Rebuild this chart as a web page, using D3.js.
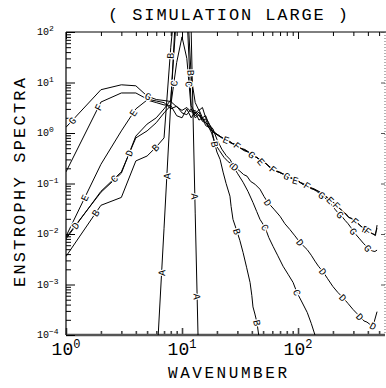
<!DOCTYPE html>
<html>
<head>
<meta charset="utf-8">
<script src="https://cdn.jsdelivr.net/npm/d3@7"></script>
<style>
  body { margin: 0; background: #fff; }
  text { font-family: "Liberation Mono", "DejaVu Sans Mono", monospace; fill: #000; }
</style>
</head>
<body>
<div id="chart"></div>
<script>
// spectra, [wavenumber, enstrophy] pairs
const curveA = [[6, 2e-5], [7, 0.013], [8, 3.9], [9, 600], [10, 3000], [11, 1500], [12, 100], [13, 0.025], [14, 1.5e-5]];

const curveB = [[1, 0.0036], [2, 0.037], [3, 0.053], [4, 0.28], [5, 0.35], [6, 0.53], [7, 0.8], [8, 50], [9, 800],
  [10, 150], [11, 600], [12, 13], [13, 4], [14, 2.8], [15, 3.2], [16, 2.0], [17, 1.6], [18, 1.2], [19.2, 0.6],
  [20, 0.42], [21.3, 0.30], [22.6, 0.168], [24, 0.1], [25.9, 0.056], [26.5, 0.035], [27.5, 0.0195], [29.8, 0.0112],
  [31.5, 0.0075], [33.6, 0.0043], [36, 0.0022], [38.6, 0.0011], [40, 6e-4], [40.9, 3.6e-4], [42.5, 2.6e-4],
  [44.3, 1.75e-4], [47, 6.5e-5]];

const curveC = [[1, 0.008], [2, 0.07], [3, 0.17], [4, 0.8], [5, 1.1], [6, 1.6], [7, 2.5], [8, 3.5], [9, 25],
  [10, 80], [11, 30], [12, 3.0], [13, 2.2], [14, 2.6], [15, 1.8], [16, 1.9], [17, 1.3], [18, 1.0], [19.2, 0.62],
  [21, 0.45], [23, 0.33], [25, 0.27], [27, 0.24], [30, 0.16], [33.6, 0.106], [37, 0.07], [40.9, 0.042],
  [44, 0.028], [47, 0.0195], [52, 0.0135], [56, 0.0085], [60.9, 0.0057], [67, 0.0037], [74.3, 0.0023],
  [82, 0.0016], [90.6, 0.0011], [98, 6.9e-4], [108, 4.5e-4], [120, 2.8e-4], [130, 1.7e-4], [140, 1.0e-4],
  [155, 5e-5]];

const curveD = [[1, 0.0085], [2, 0.067], [3, 0.16], [4, 0.87], [5, 1.5], [6, 2.0], [7, 3.0], [8, 4.5], [9, 250],
  [10, 600], [11, 250], [12, 3.5], [13, 2.4], [14, 2.9], [15, 2.0], [16, 2.2], [17, 1.5], [18.5, 1.2], [20, 0.75],
  [22, 0.48], [24, 0.36], [25.9, 0.30], [28, 0.22], [31.5, 0.176], [34, 0.15], [36.3, 0.14], [39, 0.11],
  [42.5, 0.097], [47, 0.077], [51, 0.055], [55, 0.042], [62, 0.031], [70, 0.0224], [77, 0.016], [85, 0.0123],
  [94, 0.0092], [104, 0.0068], [120, 0.0049], [130, 0.0038], [140, 0.0029], [150, 0.0023], [164, 0.0018],
  [180, 0.0013], [200, 9.1e-4], [220, 7e-4], [244, 5.5e-4], [270, 4.2e-4], [298, 3.2e-4], [320, 2.7e-4],
  [342, 2.3e-4], [370, 1.9e-4], [393, 1.8e-4], [420, 1.6e-4], [443, 1.5e-4], [480, 2.9e-4]];

const curveE = [[1, 0.009], [2, 0.24], [3, 1.1], [4, 3.0], [5, 4.5], [6, 4.0], [7, 3.6], [8, 3.5], [9, 2.2],
  [10, 2.0], [11, 3.0], [12, 2.0], [13, 2.6], [14, 1.8], [15, 2.0], [16, 1.4], [17, 1.3], [18.5, 1.05],
  [21, 0.88], [23, 0.76], [26, 0.68], [28, 0.58], [30, 0.56], [34, 0.45], [37, 0.42], [39, 0.37], [45, 0.32],
  [48, 0.27], [52, 0.26], [57, 0.21], [61, 0.195], [66, 0.17], [70, 0.168], [78, 0.145], [85, 0.135],
  [92, 0.118], [100, 0.112], [110, 0.096], [120, 0.09], [130, 0.079], [140, 0.076], [155, 0.068], [170, 0.057],
  [180, 0.053], [195, 0.044], [205, 0.041], [218, 0.034], [230, 0.032], [245, 0.027], [260, 0.025],
  [275, 0.021], [290, 0.0205], [305, 0.018], [323, 0.0172], [340, 0.0148], [360, 0.0135], [375, 0.0124],
  [390, 0.012], [405, 0.0112], [418, 0.011], [435, 0.0102], [450, 0.0099], [465, 0.0093], [480, 0.015]];

const curveF = [[1, 0.17], [2, 4.1], [3, 6.2], [4, 6.2], [5, 4.7], [6, 4.3], [7, 4.0], [8, 3.0], [9, 3.4],
  [10, 2.5], [11, 2.3], [12, 3.0], [13, 2.0], [14, 2.3], [15, 1.7], [16, 1.6], [17, 1.3], [18.5, 1.05],
  [20, 0.92], [22, 0.8], [24, 0.74], [26, 0.64], [29, 0.6], [32, 0.5], [35, 0.47], [39, 0.39], [42, 0.36],
  [46, 0.3], [50, 0.27], [55, 0.23], [61, 0.19], [65, 0.18], [72, 0.158], [80, 0.146], [87, 0.13], [95, 0.122],
  [105, 0.105], [115, 0.096], [125, 0.085], [138, 0.078], [150, 0.069], [165, 0.061], [180, 0.051],
  [192, 0.047], [210, 0.039], [225, 0.033], [240, 0.029], [255, 0.025], [270, 0.022], [285, 0.0205],
  [300, 0.019], [315, 0.0172], [330, 0.016], [350, 0.0142], [370, 0.0128], [385, 0.0122], [400, 0.0114],
  [420, 0.0107], [440, 0.0101], [460, 0.0095], [480, 0.013]];

const curveG = [[1, 1.3], [2, 7.2], [3, 9.0], [4, 8.6], [5, 5.4], [6, 4.6], [7, 4.4], [8, 4.2], [9, 3.3],
  [10, 2.8], [11, 3.2], [12, 2.6], [13, 2.8], [14, 2.2], [15, 2.0], [16, 1.6], [17, 1.4], [18.5, 1.1],
  [20, 0.95], [22, 0.82], [25, 0.7], [27, 0.62], [30, 0.57], [33, 0.48], [37, 0.43], [40, 0.37], [44, 0.33],
  [49, 0.28], [53, 0.25], [58, 0.2], [63, 0.185], [70, 0.163], [76, 0.15], [85, 0.13], [93, 0.12],
  [102, 0.108], [112, 0.095], [122, 0.087], [135, 0.077], [145, 0.07], [155, 0.062], [168, 0.054],
  [182, 0.045], [196, 0.037], [208, 0.031], [222, 0.026], [240, 0.022], [255, 0.0185], [270, 0.016],
  [285, 0.0135], [298, 0.0115], [315, 0.0098], [340, 0.008], [365, 0.0066], [385, 0.0058], [401, 0.0052],
  [420, 0.0048], [440, 0.0046], [460, 0.0045], [480, 0.0048]];

// wavenumbers where the curve letters sit
const labelsA = [6.67, 7.4, 12.9, 13.5];
const labelsB = [1.8, 5.9, 7.9, 11.95, 19.2, 29.8, 44.3];
const labelsC = [2.6, 8.5, 11.5, 27.5, 52, 98];
const labelsD = [1.2, 3.5, 28.6, 55, 104, 164, 244, 342, 443];
const labelsE = [1.45, 3.8, 24, 48, 95, 190, 380];
const labelsF = [1.9, 30, 61, 120, 215, 310, 400];
const labelsG = [1.13, 5.1, 40, 80, 160, 230, 300, 400];

const seriesNames = ["A", "B", "C", "D", "E", "F", "G"];
const xTickExp = [0, 1, 2];
const yTickExp = [-4, -3, -2, -1, 0, 1, 2];

const series = [curveA, curveB, curveC, curveD, curveE, curveF, curveG].map((data, i) => ({
  name: seriesNames[i],
  data: data,
  labels: [labelsA, labelsB, labelsC, labelsD, labelsE, labelsF, labelsG][i]
}));

const width = 386, height = 388;
const plotLeft = 66, plotRight = 385, plotTop = 32, plotBottom = 335;

const svg = d3.select("#chart").append("svg")
  .attr("width", width)
  .attr("height", height);

const x = d3.scaleLog().domain([1, 562]).range([plotLeft, plotRight]);
const y = d3.scaleLog().domain([1e-4, 1e2]).range([plotBottom, plotTop]);

// minor tick values, 2..9 in each decade
const xMinor = [];
xTickExp.forEach(e => { for (let m = 2; m <= 9; m++) { const v = m * Math.pow(10, e); if (v < 562) xMinor.push(v); } });
const yMinor = [];
yTickExp.slice(0, -1).forEach(e => { for (let m = 2; m <= 9; m++) yMinor.push(m * Math.pow(10, e)); });
const xMajor = xTickExp.map(e => Math.pow(10, e));
const yMajor = yTickExp.map(e => Math.pow(10, e));

function styleAxis(g, color, w) {
  g.select(".domain").remove();
  g.selectAll("line").attr("stroke", color).attr("stroke-width", w);
}

// bottom axis (ticks pointing in)
svg.append("g").attr("transform", `translate(0,${plotBottom})`)
  .call(d3.axisBottom(x).tickValues(xMinor).tickSize(-4).tickFormat(""))
  .call(g => styleAxis(g, "#444", 1.6));
svg.append("g").attr("transform", `translate(0,${plotBottom})`)
  .call(d3.axisBottom(x).tickValues(xMajor).tickSize(-7).tickFormat(""))
  .call(g => styleAxis(g, "#444", 1.6));
svg.append("line")
  .attr("x1", plotLeft).attr("x2", plotRight).attr("y1", plotBottom).attr("y2", plotBottom)
  .attr("stroke", "#555").attr("stroke-width", 2.5);

// top axis
svg.append("g").attr("transform", `translate(0,${plotTop})`)
  .call(d3.axisTop(x).tickValues(xMinor).tickSize(-4).tickFormat(""))
  .call(g => styleAxis(g, "#000", 1));
svg.append("g").attr("transform", `translate(0,${plotTop})`)
  .call(d3.axisTop(x).tickValues(xMajor).tickSize(-7).tickFormat(""))
  .call(g => styleAxis(g, "#000", 1));
svg.append("line")
  .attr("x1", plotLeft).attr("x2", width).attr("y1", plotTop).attr("y2", plotTop)
  .attr("stroke", "#000").attr("stroke-width", 1);

// left axis
svg.append("g").attr("transform", `translate(${plotLeft},0)`)
  .call(d3.axisLeft(y).tickValues(yMinor).tickSize(-5).tickFormat(""))
  .call(g => styleAxis(g, "#000", 1));
svg.append("g").attr("transform", `translate(${plotLeft},0)`)
  .call(d3.axisLeft(y).tickValues(yMajor).tickSize(-9).tickFormat(""))
  .call(g => styleAxis(g, "#000", 1));
svg.append("line")
  .attr("x1", plotLeft).attr("x2", plotLeft).attr("y1", plotTop).attr("y2", plotBottom)
  .attr("stroke", "#000").attr("stroke-width", 1.2);

// right axis, faint dotted
svg.append("g").attr("transform", `translate(${plotRight},0)`)
  .call(d3.axisRight(y).tickValues(yMajor).tickSize(-4).tickFormat(""))
  .call(g => styleAxis(g, "#555", 1));
svg.append("line")
  .attr("x1", plotRight).attr("x2", plotRight).attr("y1", plotTop).attr("y2", plotBottom)
  .attr("stroke", "#666").attr("stroke-width", 1).attr("stroke-dasharray", "1,2");

// tick labels with superscript exponents
const supText = e => String(e).replace("-", "\u2212");
yTickExp.forEach(e => {
  const t = svg.append("text")
    .attr("x", 37)
    .attr("y", y(Math.pow(10, e)) + 3)
    .style("font-size", "10px");
  t.append("tspan").text("10");
  t.append("tspan").attr("dy", -4).style("font-size", "8px").text(supText(e));
});
xTickExp.forEach(e => {
  const t = svg.append("text")
    .attr("x", x(Math.pow(10, e)))
    .attr("y", 355)
    .attr("text-anchor", "middle")
    .style("font-size", "18px");
  t.append("tspan").text("10");
  t.append("tspan").attr("dy", -7).style("font-size", "12px").text(supText(e));
});

// titles
svg.append("text")
  .attr("x", 108).attr("y", 20)
  .attr("textLength", 240).attr("lengthAdjust", "spacing")
  .style("font-size", "17px")
  .text("( SIMULATION LARGE )");

svg.append("text")
  .attr("x", 168).attr("y", 378)
  .attr("textLength", 119).attr("lengthAdjust", "spacing")
  .style("font-size", "16px")
  .text("WAVENUMBER");

svg.append("text")
  .attr("transform", "translate(25,287) rotate(-90)")
  .attr("textLength", 209).attr("lengthAdjust", "spacing")
  .style("font-size", "17px")
  .text("ENSTROPHY SPECTRA");

// curves
svg.append("clipPath").attr("id", "plot-clip")
  .append("rect")
  .attr("x", plotLeft).attr("y", plotTop)
  .attr("width", plotRight - plotLeft).attr("height", plotBottom - plotTop);

const line = d3.line()
  .x(d => x(d[0]))
  .y(d => y(d[1]));

const plot = svg.append("g").attr("clip-path", "url(#plot-clip)");

plot.selectAll(".curve")
  .data(series)
  .enter()
  .append("path")
  .attr("class", "curve")
  .attr("fill", "none")
  .attr("stroke", "#000")
  .attr("stroke-width", 1)
  .attr("stroke-linejoin", "round")
  .attr("d", d => line(d.data));

// find position and direction on a curve at wavenumber k
function placeAt(data, k) {
  const lk = Math.log10(k);
  for (let i = 0; i < data.length - 1; i++) {
    const a = data[i], b = data[i + 1];
    if (k >= a[0] && k <= b[0]) {
      const t = (lk - Math.log10(a[0])) / (Math.log10(b[0]) - Math.log10(a[0]));
      const x0 = x(a[0]), y0 = y(a[1]), x1 = x(b[0]), y1 = y(b[1]);
      return { px: x0 + t * (x1 - x0), py: y0 + t * (y1 - y0), ang: Math.atan2(y1 - y0, x1 - x0) * 180 / Math.PI };
    }
  }
  return null;
}

series.forEach(s => {
  s.labels.forEach(k => {
    const p = placeAt(s.data, k);
    if (!p) return;
    plot.append("text")
      .attr("transform", `translate(${p.px},${p.py}) rotate(${p.ang})`)
      .attr("text-anchor", "middle")
      .attr("dy", "0.35em")
      .style("font-size", "10px")
      .style("stroke", "#fff")
      .style("stroke-width", 2.5)
      .style("paint-order", "stroke")
      .text(s.name);
  });
});
</script>
</body>
</html>
